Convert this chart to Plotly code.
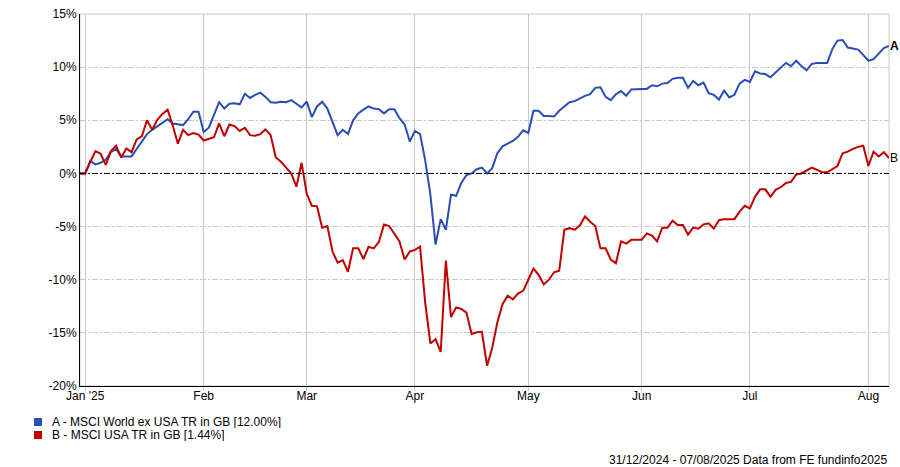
import pandas as pd
import plotly.graph_objects as go

# weekday dates 31/12/2024 - 07/08/2025
dates = pd.bdate_range("2024-12-31", "2025-08-07")

world_ex_usa = [
    0, 0, 1.17, 0.85, 1.0, 1.3, 2.0, 2.3, 1.6, 1.6,
    1.6, 2.3, 2.95, 3.7, 4.1, 4.45, 4.75, 5.1, 4.7, 4.65,
    4.55, 5.1, 5.8, 5.8, 3.9, 4.3, 5.45, 6.7, 6.1, 6.55,
    6.6, 6.5, 7.5, 7.1, 7.4, 7.6, 7.2, 6.7, 6.65, 6.75,
    6.7, 6.9, 6.55, 6.2, 6.75, 5.3, 6.3, 6.75, 6.1, 4.8,
    3.6, 4.1, 3.7, 5.0, 5.65, 6.0, 6.3, 6.1, 6.05, 5.65,
    6.05, 6.05, 5.2, 4.6, 3.0, 4.0, 3.7, 1.2, -2.0, -6.7,
    -4.3, -5.3, -2.0, -2.1, -0.9, -0.15, 0.0, 0.4, 0.55, 0.0,
    0.5, 1.9, 2.55, 2.8, 3.05, 3.45, 4.05, 3.8, 5.9, 5.9,
    5.4, 5.4, 5.35, 5.9, 6.3, 6.7, 6.8, 7.05, 7.3, 7.45,
    8.05, 8.1, 7.2, 6.9, 7.45, 7.75, 7.3, 7.9, 7.95, 7.95,
    7.95, 8.3, 8.2, 8.45, 8.5, 8.9, 9.0, 9.0, 8.05, 8.7,
    8.3, 8.55, 7.55, 7.4, 6.95, 7.8, 7.15, 7.4, 8.45, 8.8,
    8.6, 9.6, 9.4, 9.35, 9.05, 9.5, 10.0, 10.4, 10.1, 10.6,
    10.1, 9.7, 10.3, 10.4, 10.4, 10.4, 11.7, 12.5, 12.55, 11.85,
    11.75, 11.65, 11.15, 10.6, 10.75, 11.3, 11.8, 12.0,
]

usa = [
    0, 0, 1.1, 2.1, 1.85, 0.8, 2.1, 2.6, 1.5, 2.35,
    2.0, 3.2, 3.5, 5.0, 4.1, 5.05, 5.6, 6.0, 4.5, 2.8,
    4.1, 3.6, 3.8, 3.65, 3.1, 3.25, 3.4, 4.7, 3.5, 4.6,
    4.45, 4.0, 4.3, 3.6, 3.55, 3.7, 4.15, 3.6, 1.5, 1.1,
    0.6, 0.0, -1.25, 1.0, -1.9, -3.05, -3.1, -5.1, -4.95, -7.35,
    -8.4, -8.15, -9.25, -7.05, -7.05, -8.05, -6.9, -7.05, -6.45, -4.8,
    -4.95, -5.7, -6.4, -8.1, -7.35, -7.2, -6.9, -12.2, -16.0, -15.6,
    -16.8, -8.2, -13.5, -12.6, -12.75, -13.1, -15.1, -14.95, -14.9, -18.1,
    -16.4, -14.0, -12.3, -11.5, -11.85, -11.3, -11.05, -10.0, -8.95, -9.55,
    -10.45, -10.0, -9.3, -9.15, -5.3, -5.15, -5.3, -4.9, -4.05, -4.55,
    -4.95, -7.05, -7.05, -8.1, -8.45, -6.4, -6.6, -6.25, -6.25, -6.25,
    -5.65, -5.85, -6.4, -5.1, -5.1, -4.45, -4.85, -4.85, -5.75, -5.1,
    -5.2, -4.8, -4.7, -5.2, -4.4, -4.3, -4.3, -4.3, -3.6, -3.05,
    -3.3, -2.2, -1.5, -1.5, -2.2, -1.55, -1.3, -0.9, -0.8, -0.1,
    0.0, 0.25, 0.55, 0.35, 0.1, 0.1, 0.4, 0.7, 1.9, 2.05,
    2.3, 2.5, 2.6, 0.7, 2.05, 1.6, 2.0, 1.44,
]

month_ticks = ["2025-01-01", "2025-02-03", "2025-03-03", "2025-04-01",
               "2025-05-01", "2025-06-02", "2025-07-01", "2025-08-01"]
month_labels = ["Jan '25", "Feb", "Mar", "Apr", "May", "Jun", "Jul", "Aug"]

pct_ticks = [-20, -15, -10, -5, 0, 5, 10, 15]
pct_labels = ["-20%", "-15%", "-10%", "-5%", "0%", "5%", "10%", "15%"]

series = [
    ("<b>A</b>", "A - MSCI World ex USA TR in GB [12.00%]", world_ex_usa, "#2a4db5"),
    ("B", "B - MSCI USA TR in GB [1.44%]", usa, "#c00000"),
]

FONT = "Liberation Sans, Arial, sans-serif"
grid = "#c8c8c8"

W, H = 900, 467

fig = go.Figure()
for key, name, vals, col in series:
    fig.add_trace(go.Scatter(x=dates, y=vals, mode="lines", name=name,
                             line=dict(color=col, width=2), showlegend=False))

shapes = [
    # grey frame (top/right)
    dict(type="rect", xref="paper", yref="paper", x0=0, x1=1, y0=0, y1=1,
         line=dict(color=grid, width=1), layer="below"),
    # zero line
    dict(type="line", xref="paper", yref="y", x0=0, x1=1, y0=0, y1=0,
         line=dict(color="black", width=1, dash="6px,2px,2px,2px")),
]

annotations = []
# end labels at the line ends
for key, name, vals, col in series:
    annotations.append(dict(x=1, y=vals[-1], xref="paper", yref="y", text=key,
                            showarrow=False, xanchor="left", yanchor="middle", xshift=0,
                            borderpad=0, font=dict(family=FONT, size=12, color="black")))

# legend drawn by hand (square swatches, tight spacing)
legend_y = [-0.0968, -0.1317]
for (key, name, vals, col), ly in zip(series, legend_y):
    shapes.append(dict(type="rect", xref="paper", yref="paper",
                       x0=-0.0569, x1=-0.0470, y0=ly + 0.0108, y1=ly - 0.0108,
                       fillcolor=col, line=dict(width=0)))
    annotations.append(dict(x=-0.0371, y=ly, xref="paper", yref="paper", text=name,
                            showarrow=False, xanchor="left", yanchor="middle", height=12,
                            font=dict(family=FONT, size=12, color="black")))

annotations.append(dict(x=1.0015, y=-0.199, xref="paper", yref="paper",
                        text="31/12/2024 - 07/08/2025 Data from FE fundinfo2025",
                        showarrow=False, xanchor="right", yanchor="middle",
                        font=dict(family=FONT, size=12, color="black")))

fig.update_layout(
    width=W, height=H,
    margin={'l': 80, 'r': 11, 't': 14, 'b': 81, 'autoexpand': False},
    plot_bgcolor="white", paper_bgcolor="white",
    font=dict(family=FONT, size=12, color="black"),
    shapes=shapes, annotations=annotations,
    xaxis=dict(
        range=[dates[0], dates[-1]],
        rangebreaks=[dict(bounds=["sat", "mon"])],
        tickmode="array", tickvals=month_ticks, ticktext=month_labels,
        showgrid=True, gridcolor=grid, gridwidth=1,
        ticks="outside", ticklen=4, tickcolor=grid,
        ticklabelstandoff=-5, ticklabeloverflow="allow", automargin=False,
        showline=True, linecolor="black", linewidth=1,
        zeroline=False,
    ),
    yaxis=dict(
        range=[-20, 15],
        tickmode="array", tickvals=pct_ticks, ticktext=pct_labels,
        ticklabeloverflow="allow", automargin=False,
        showgrid=True, gridcolor=grid, gridwidth=1, griddash="6px,2px,2px,2px",
        showline=True, linecolor="black", linewidth=1,
        zeroline=False, ticks="",
    ),
)

# drop the default page margin so the 900x467 figure fills the window
fig.write_html("out.html", config={"displayModeBar": False},
               post_script="document.body.style.margin='0';document.body.style.overflow='hidden';")
